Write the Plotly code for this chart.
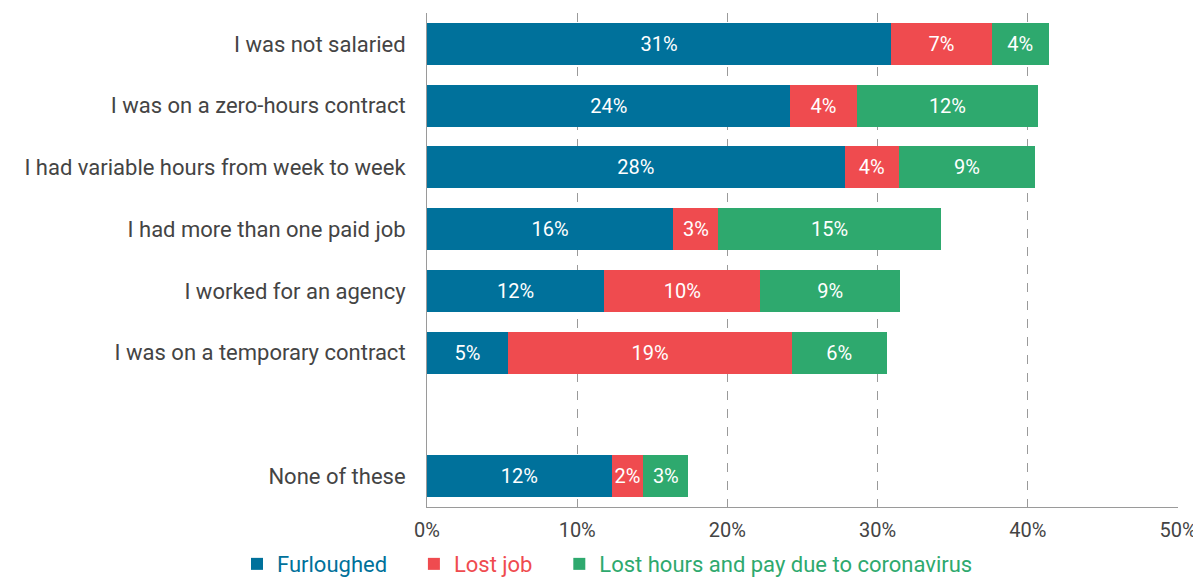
import plotly.graph_objects as go

categories = [
    "I was not salaried",
    "I was on a zero-hours contract",
    "I had variable hours from week to week",
    "I had more than one paid job",
    "I worked for an agency",
    "I was on a temporary contract",
    "None of these",
]
# blank slot between the main group and "None of these"
category_order = categories[:6] + [" "] + categories[6:]

furloughed = [30.9, 24.2, 27.8, 16.4, 11.8, 5.4, 12.3]
lost_job = [6.7, 4.4, 3.6, 3.0, 10.4, 18.9, 2.1]
lost_hours = [3.8, 12.1, 9.1, 14.8, 9.3, 6.3, 3.0]

x_ticks = [0, 10, 20, 30, 40, 50]
x_tick_labels = [f"{v}%" for v in x_ticks]

series = [
    ("Furloughed", furloughed, "#00719B"),
    ("Lost job", lost_job, "#EF4B4F"),
    ("Lost hours and pay due to coronavirus", lost_hours, "#2EA96E"),
]

font = "Roboto, sans-serif"
pad = "&nbsp;" * 4

fig = go.Figure()
for name, vals, color in series:
    fig.add_trace(go.Bar(
        x=vals, y=categories, orientation="h",
        name=f"<span style='color:{color}'>{name}</span>{pad}",
        marker={"color": color, "line": {"width": 0}},
        texttemplate="%{x:.0f}%", textposition="inside",
        insidetextanchor="middle", textangle=0, constraintext="none",
        textfont={"color": "white", "size": 20, "family": font},
    ))

# page body adds an 8px offset, so the figure is a bit smaller than the window
fig.update_layout(
    barmode="stack",
    bargap=0.32,
    width=1193, height=570,
    margin={"l": 419, "r": 23, "t": 5, "b": 71, "autoexpand": False},
    plot_bgcolor="white",
    paper_bgcolor="white",
    uniformtext={"minsize": 20, "mode": "show"},
    xaxis={
        "range": [0, 50], "tickvals": x_ticks, "ticktext": x_tick_labels,
        "showgrid": True, "gridcolor": "#9a9a9a", "griddash": "dash", "gridwidth": 1,
        "showline": True, "linecolor": "#9a9a9a", "linewidth": 1,
        "zeroline": False, "ticks": "", "ticklabelstandoff": 5,
        "tickfont": {"size": 20, "color": "#444", "family": font},
        "fixedrange": True, "automargin": False,
    },
    yaxis={
        "type": "category", "categoryorder": "array", "categoryarray": category_order,
        "autorange": "reversed",
        "showline": True, "linecolor": "#9a9a9a", "linewidth": 1,
        "showgrid": False, "zeroline": False, "ticks": "",
        "ticklabelstandoff": 16, "automargin": False,
        "tickfont": {"size": 22, "color": "#444", "family": font},
    },
    legend={
        "orientation": "h", "x": -0.253, "xanchor": "left",
        "y": -0.073, "yanchor": "top",
        "font": {"size": 22, "family": font},
        "itemwidth": 30, "traceorder": "normal",
    },
)

fig.write_html("out.html")
